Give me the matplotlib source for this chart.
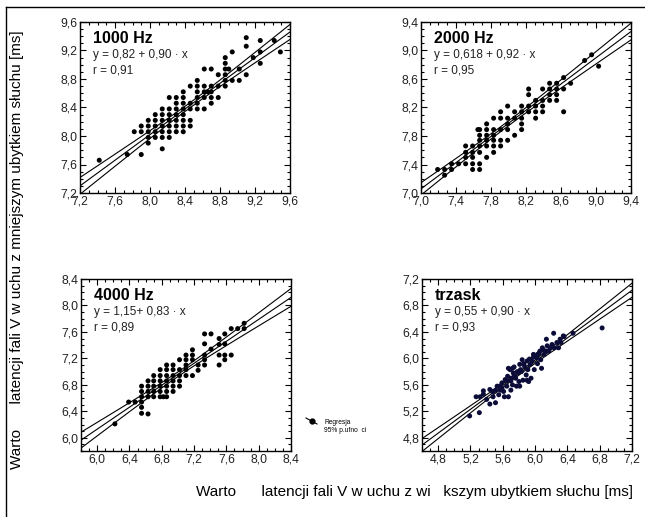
import numpy as np
import matplotlib
matplotlib.use("Agg")
import matplotlib.pyplot as plt
from matplotlib.lines import Line2D
from matplotlib.ticker import MultipleLocator, FixedLocator, FuncFormatter

plt.rcParams['font.family'] = ['Liberation Sans', 'DejaVu Sans']

# ================= dane =================
titles = ["1000 Hz", "2000 Hz", "4000 Hz", "trzask"]
equations = ["y = 0,82 + 0,90 \u00b7 x", "y = 0,618 + 0,92 \u00b7 x",
             "y = 1,15+ 0,83 \u00b7 x", "y = 0,55 + 0,90 \u00b7 x"]
r_labels = ["r = 0,91", "r = 0,95", "r = 0,89", "r = 0,93"]
intercepts = [0.82, 0.618, 1.15, 0.55]
slopes = [0.90, 0.92, 0.83, 0.90]

x_1000 = [7.42, 7.74, 7.82, 7.90, 7.90, 7.90,
          7.98, 7.98, 7.98, 7.98, 7.98,
          8.06, 8.06, 8.06, 8.06, 8.06,
          8.14, 8.14, 8.14, 8.14, 8.14, 8.14, 8.14,
          8.22, 8.22, 8.22, 8.22, 8.22, 8.22, 8.22,
          8.30, 8.30, 8.30, 8.30, 8.30, 8.30, 8.30,
          8.38, 8.38, 8.38, 8.38, 8.38, 8.38, 8.38, 8.38,
          8.46, 8.46, 8.46, 8.46, 8.46,
          8.54, 8.54, 8.54, 8.54, 8.54, 8.54,
          8.62, 8.62, 8.62, 8.62, 8.62, 8.66,
          8.70, 8.70, 8.70, 8.70, 8.70,
          8.78, 8.78, 8.78,
          8.86, 8.86, 8.86, 8.86, 8.86, 8.86,
          8.90, 8.94, 8.94, 9.02, 9.02,
          9.10, 9.10, 9.10, 9.18,
          9.26, 9.26, 9.26, 9.42, 9.49]
y_1000 = [7.66, 7.74, 8.06, 8.14, 8.06, 7.74,
          8.22, 8.14, 8.06, 7.98, 7.90,
          8.30, 8.22, 8.14, 8.06, 7.98,
          8.38, 8.30, 8.22, 8.14, 8.06, 7.98, 7.82,
          8.54, 8.38, 8.30, 8.22, 8.14, 8.06, 7.98,
          8.54, 8.46, 8.38, 8.30, 8.22, 8.14, 8.06,
          8.62, 8.54, 8.46, 8.38, 8.30, 8.22, 8.14, 8.06,
          8.70, 8.46, 8.38, 8.22, 8.14,
          8.78, 8.70, 8.62, 8.54, 8.46, 8.38,
          8.94, 8.70, 8.62, 8.54, 8.38, 8.62,
          8.94, 8.70, 8.62, 8.54, 8.46,
          8.86, 8.70, 8.54,
          9.10, 9.02, 8.94, 8.86, 8.78, 8.70,
          8.94, 9.18, 8.78, 8.94, 8.78,
          9.38, 9.26, 8.86, 9.10,
          9.34, 9.18, 9.02, 9.34, 9.18]

x_2000 = [7.19, 7.27, 7.27, 7.35, 7.35, 7.43,
          7.51, 7.51, 7.51, 7.51,
          7.59, 7.59, 7.59, 7.59, 7.59,
          7.65, 7.67, 7.67, 7.67, 7.67, 7.67, 7.67, 7.67,
          7.75, 7.75, 7.75, 7.75, 7.75, 7.75,
          7.83, 7.83, 7.83, 7.83, 7.83, 7.83,
          7.91, 7.91, 7.91, 7.91, 7.91,
          7.99, 7.99, 7.99, 7.99, 7.99,
          8.07, 8.07, 8.07,
          8.15, 8.15, 8.15, 8.15, 8.15,
          8.23, 8.23, 8.23, 8.23,
          8.31, 8.31, 8.31, 8.31,
          8.39, 8.39, 8.39, 8.39,
          8.47, 8.47, 8.47, 8.47,
          8.55, 8.55, 8.55, 8.55,
          8.63, 8.63, 8.63, 8.71,
          8.87, 8.95, 9.03]
y_2000 = [7.33, 7.33, 7.25, 7.41, 7.33, 7.41,
          7.66, 7.57, 7.50, 7.41,
          7.66, 7.57, 7.50, 7.41, 7.33,
          7.89, 7.89, 7.81, 7.74, 7.66, 7.57, 7.41, 7.33,
          7.97, 7.89, 7.81, 7.74, 7.66, 7.50,
          8.05, 7.89, 7.81, 7.74, 7.66, 7.57,
          8.14, 8.05, 7.89, 7.74, 7.66,
          8.22, 8.05, 7.97, 7.89, 7.74,
          8.14, 8.05, 7.81,
          8.22, 8.14, 8.05, 7.97, 7.89,
          8.46, 8.38, 8.22, 8.14,
          8.30, 8.22, 8.14, 8.05,
          8.46, 8.30, 8.22, 8.14,
          8.54, 8.46, 8.38, 8.30,
          8.54, 8.46, 8.38, 8.30,
          8.62, 8.46, 8.14, 8.54,
          8.86, 8.94, 8.78]

x_4000 = [6.22, 6.39, 6.47,
          6.55, 6.55, 6.55, 6.55, 6.55, 6.55,
          6.63, 6.63, 6.63, 6.63, 6.63,
          6.70, 6.70, 6.70, 6.70, 6.70,
          6.78, 6.78, 6.78, 6.78, 6.78, 6.78, 6.82,
          6.86, 6.86, 6.86, 6.86, 6.86, 6.86, 6.86,
          6.94, 6.94, 6.94, 6.94, 6.94, 6.94,
          7.02, 7.02, 7.02, 7.02, 7.02,
          7.10, 7.10, 7.10, 7.10, 7.10,
          7.18, 7.18, 7.18, 7.18,
          7.25, 7.25,
          7.33, 7.33, 7.33, 7.33, 7.33,
          7.41, 7.41,
          7.51, 7.51, 7.51, 7.51,
          7.58, 7.58, 7.58, 7.58,
          7.66, 7.66, 7.74, 7.82, 7.82]
y_4000 = [6.21, 6.54, 6.54,
          6.78, 6.70, 6.62, 6.54, 6.46, 6.37,
          6.86, 6.78, 6.70, 6.62, 6.36,
          6.94, 6.86, 6.78, 6.70, 6.62,
          7.03, 6.94, 6.86, 6.78, 6.70, 6.62, 6.62,
          7.10, 7.03, 6.94, 6.86, 6.78, 6.70, 6.62,
          7.10, 7.03, 6.94, 6.86, 6.78, 6.70,
          7.18, 7.03, 6.94, 6.86, 6.78,
          7.25, 7.18, 7.10, 7.03, 6.94,
          7.33, 7.25, 7.18, 6.94,
          7.10, 7.02,
          7.57, 7.42, 7.25, 7.18, 7.10,
          7.57, 7.34,
          7.50, 7.41, 7.25, 7.10,
          7.57, 7.42, 7.25, 7.18,
          7.65, 7.25, 7.65, 7.73, 7.65]

x_trzask = [5.19, 5.31, 5.27, 5.36, 5.40, 5.44, 5.44, 5.48, 5.48, 5.51,
            5.53, 5.55, 5.57, 5.59, 5.61, 5.62, 5.63, 5.65, 5.66, 5.67,
            5.69, 5.70, 5.72, 5.73, 5.74, 5.76, 5.77, 5.79, 5.80, 5.81,
            5.83, 5.84, 5.85, 5.87, 5.89, 5.91, 5.92, 5.94, 5.95, 5.96,
            5.98, 5.99, 6.02, 6.03, 6.05, 6.07, 6.08, 6.09, 6.11, 6.13,
            6.14, 6.15, 6.17, 6.19, 6.21, 6.23, 6.24, 6.27, 6.29, 6.31,
            6.32, 6.35, 6.36, 6.47, 6.83,
            5.47, 5.51, 5.56, 5.59, 5.65, 5.70, 5.74, 5.78, 5.82, 5.86,
            5.90, 5.93, 5.98, 6.03, 6.06, 6.10, 6.15, 5.67, 5.72, 5.70,
            5.81, 5.90, 5.36, 5.32]
y_trzask = [5.13, 5.18, 5.42, 5.46, 5.38, 5.31, 5.53, 5.42, 5.50, 5.33,
            5.58, 5.45, 5.52, 5.63, 5.50, 5.42, 5.68, 5.58, 5.73, 5.42,
            5.83, 5.66, 5.60, 5.78, 5.87, 5.70, 5.58, 5.78, 5.65, 5.91,
            5.80, 5.98, 5.67, 5.88, 5.75, 5.83, 5.65, 5.91, 5.70, 5.96,
            6.06, 5.83, 6.01, 5.92, 6.08, 5.98, 5.85, 6.16, 6.06, 6.11,
            6.29, 6.19, 6.11, 6.16, 6.21, 6.38, 6.16, 6.24, 6.16, 6.29,
            6.24, 6.34, 6.33, 6.38, 6.46,
            5.50, 5.52, 5.58, 5.55, 5.66, 5.70, 5.73, 5.80, 5.83, 5.92,
            5.96, 5.99, 6.02, 6.06, 6.11, 6.13, 6.11, 5.85, 5.85, 5.52,
            5.58, 5.67, 5.51, 5.42]

panel_x = [x_1000, x_2000, x_4000, x_trzask]
panel_y = [y_1000, y_2000, y_4000, y_trzask]
# =========================================

# zakresy osi i pierwszy opisany tick
limits = [(7.2, 9.6), (7.0, 9.4), (5.8, 8.4), (4.6, 7.2)]
first_tick = [7.2, 7.0, 6.0, 4.8]
dot_colors = ['black', 'black', 'black', '#0c0c38']

W, H = 645, 517


def box(left, top, right, bottom):
    return [left / W, 1 - bottom / H, (right - left) / W, (bottom - top) / H]


positions = [box(80, 22, 290, 193), box(421, 22, 631, 193),
             box(81, 279, 291, 451), box(422, 279, 632, 451)]


def conf_band(x, y, a, b, xs, t=1.98):
    """95% przedzial ufnosci dla linii regresji."""
    n = len(x)
    resid = y - (a + b * x)
    s = np.sqrt(np.sum(resid ** 2) / (n - 2))
    xm = x.mean()
    sxx = np.sum((x - xm) ** 2)
    return t * s * np.sqrt(1.0 / n + (xs - xm) ** 2 / sxx)


comma = FuncFormatter(lambda v, p: f"{v:.1f}".replace('.', ','))

fig = plt.figure(figsize=(W / 100, H / 100), dpi=100)

for i in range(4):
    ax = fig.add_axes(positions[i])
    x = np.array(panel_x[i])
    y = np.array(panel_y[i])
    lo, hi = limits[i]
    a, b = intercepts[i], slopes[i]

    xs = np.linspace(lo, hi, 100)
    fit = a + b * xs
    band = conf_band(x, y, a, b, xs)
    ax.plot(xs, fit, color='black', lw=0.8)
    ax.plot(xs, fit + band, color='black', lw=0.8)
    ax.plot(xs, fit - band, color='black', lw=0.8)

    ax.scatter(x, y, s=13, color=dot_colors[i], edgecolors='none', zorder=3)

    ax.set_xlim(lo, hi)
    ax.set_ylim(lo, hi)
    ticks = np.arange(first_tick[i], hi + 0.001, 0.4)
    ax.xaxis.set_major_locator(FixedLocator(ticks))
    ax.yaxis.set_major_locator(FixedLocator(ticks))
    ax.xaxis.set_minor_locator(MultipleLocator(0.1))
    ax.yaxis.set_minor_locator(MultipleLocator(0.1))
    ax.xaxis.set_major_formatter(comma)
    ax.yaxis.set_major_formatter(comma)
    ax.tick_params(which='both', direction='in', top=True, right=True,
                   width=0.8, labelsize=8.8, labelcolor='#222222', pad=2)
    ax.tick_params(which='major', length=4)
    ax.tick_params(which='minor', length=2)
    for sp in ax.spines.values():
        sp.set_linewidth(1.0)

    ax.text(0.062, 0.875, titles[i], transform=ax.transAxes,
            fontsize=11.5, fontweight='bold', va='baseline')
    ax.text(0.062, 0.79, equations[i], transform=ax.transAxes,
            fontsize=8.5, color='#222222', va='baseline')
    ax.text(0.062, 0.70, r_labels[i], transform=ax.transAxes,
            fontsize=8.5, color='#222222', va='baseline')

# ramka (lewa i gorna linia)
fig.add_artist(Line2D([6 / W, 6 / W], [0, 1 - 7 / H], transform=fig.transFigure,
                      color='black', lw=1.0))
fig.add_artist(Line2D([6 / W, 1], [1 - 7 / H, 1 - 7 / H], transform=fig.transFigure,
                      color='black', lw=1.0))

# opisy osi
fig.text(17 / W, 1 - 250 / H,
         "Warto      latencji fali V w uchu z mniejszym ubytkiem s\u0142uchu [ms]",
         rotation=90, fontsize=11, ha='center', va='center')
fig.text(415 / W, 1 - 492 / H,
         "Warto      latencji fali V w uchu z wi   kszym ubytkiem s\u0142uchu [ms]",
         fontsize=11, ha='center', va='center')

# mala legenda
fig.add_artist(Line2D([306 / W, 317 / W], [1 - 418 / H, 1 - 424 / H],
                      transform=fig.transFigure, color='black', lw=0.8))
fig.add_artist(Line2D([312 / W], [1 - 421 / H], transform=fig.transFigure,
                      marker='o', markersize=3.5, color='black'))
fig.text(324 / W, 1 - 422 / H, "Regresja", fontsize=4.8, va='center')
fig.text(324 / W, 1 - 431 / H, "95% p.ufno  ci", fontsize=4.8, va='center')

plt.savefig("out.png", dpi=100)
